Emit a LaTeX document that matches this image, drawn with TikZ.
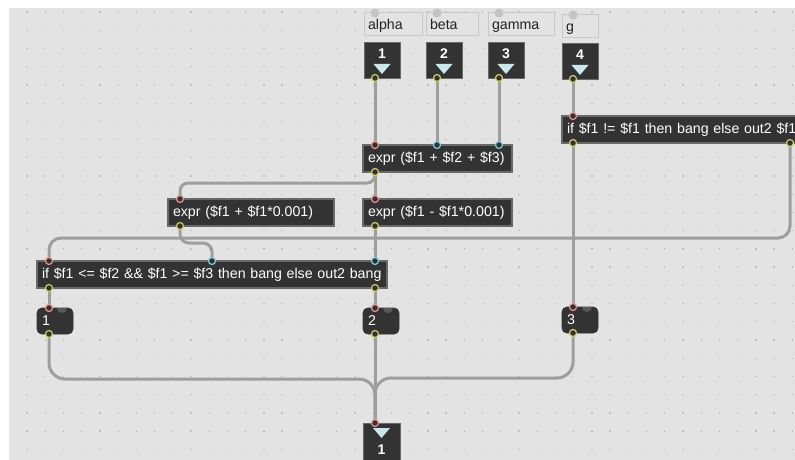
\documentclass[tikz,border=0pt]{standalone}
\usepackage{fontspec}
\newfontfamily\patchfont{Liberation Sans}
\newcommand{\patchsize}{\fontsize{14.2}{17}\selectfont}

\definecolor{canvas}{RGB}{227,227,227}
\definecolor{griddot}{RGB}{192,192,192}
\definecolor{boxfill}{RGB}{51,51,51}
\definecolor{boxrim}{RGB}{105,105,105}
\definecolor{cordgray}{RGB}{158,158,158}
\definecolor{hotring}{RGB}{232,150,140}
\definecolor{coldring}{RGB}{125,205,220}
\definecolor{outring}{RGB}{205,205,95}
\definecolor{arrowcyan}{RGB}{200,232,236}
\definecolor{notedot}{RGB}{196,196,196}
\definecolor{noterim}{RGB}{200,200,200}
\definecolor{notetext}{RGB}{34,34,34}

\begin{document}
\begin{tikzpicture}[
    x=1pt, y=-1pt,
    obj/.style={rectangle, draw=boxrim, line width=2pt, fill=boxfill, anchor=north west,
        outer sep=0pt, minimum height=27pt, inner xsep=5pt, inner ysep=0pt,
        text=white, font=\patchfont\patchsize, align=left},
    msg/.style={obj, rounded corners=5pt, line width=0.8pt, draw=boxfill,
        minimum width=36pt, minimum height=26pt, text width=26pt},
    port/.style={draw=boxrim, minimum size=36pt, fill=boxfill, line width=0.6pt,
        anchor=north west, outer sep=0pt, inner sep=0pt},
    portnum/.style={text=white, font=\patchfont\bfseries\fontsize{14}{16}\selectfont, inner sep=0pt},
    note/.style={rectangle, draw=noterim, line width=1pt, fill=canvas, anchor=north west,
        outer sep=0pt, minimum height=23pt, inner xsep=4pt, inner ysep=0pt,
        text height=12pt, text depth=2pt,
        text=notetext, font=\patchfont\patchsize, align=left},
    cord/.style={draw=cordgray, line width=3pt},
    hot/.style={draw=hotring, fill=boxfill, line width=1.2pt},
    cold/.style={draw=coldring, fill=boxfill, line width=1.2pt},
    outlet/.style={draw=outring, fill=boxfill, line width=1.2pt},
    ]

    % canvas with its dotted grid
    \clip (0,0) rectangle (795,460);
    \fill[white] (0,0) rectangle (795,460);
    \fill[canvas] (9,8) rectangle (795,460);
    \foreach \i in {0,...,42}
        \foreach \j in {0,...,24}
            \fill[griddot] (26.4+18.22*\i, 11.4+18.22*\j) rectangle ++(1.3,1.3);

    % argument names
    \node[note, minimum width=58pt, text width=50pt] (c1) at (364,13) {alpha};
    \node[note, minimum width=52pt, text width=44pt] (c2) at (426,13) {beta};
    \node[note, minimum width=66pt, text width=58pt] (c3) at (488,13) {gamma};
    \node[note, minimum width=36pt, text width=28pt] (c4) at (562,15) {g};
    \foreach \c in {c1, c2, c3, c4}
        \fill[notedot] ([xshift=11pt]\c.north west) circle (4.5pt);

    % inlets
    \foreach \n/\x/\y in {1/364/42, 2/426/42, 3/488/42, 4/562/43} {
        \node[port] (in\n) at (\x,\y) {};
        \node[portnum] at ([yshift=-12pt]in\n.north) {\n};
        \fill[arrowcyan] ([yshift=-22pt]in\n.north) ++(-8.5,0) -- ++(17,0) -- ++(-8.5,10) -- cycle;
        \coordinate (in\n-o) at ([xshift=11pt]in\n.south west);
    }

    % objects
    \node[obj, minimum width=149pt, text width=139pt] (plus) at (363,145)
        {\mbox{expr (\$f1 + \$f2 + \$f3)}};
    \node[obj, minimum width=166pt, text width=156pt] (up) at (168,199)
        {\mbox{expr (\$f1 + \$f1*0.001)}};
    \node[obj, minimum width=149pt, text width=139pt] (dn) at (363,199)
        {\mbox{expr (\$f1 - \$f1*0.001)}};
    \node[obj, minimum width=350pt, text width=340pt] (cond) at (37,261)
        {\mbox{if \$f1 <= \$f2 \&\& \$f1 >= \$f3 then bang else out2 bang}};
    \node[obj, minimum width=280pt, text width=270pt] (alt) at (562,116)
        {\mbox{if \$f1 != \$f1 then bang else out2 \$f1}};

    % message boxes
    \node[msg] (m1) at (37,308) {1};
    \node[msg] (m2) at (363,308) {2};
    \node[msg] (m3) at (562,307) {3};
    \foreach \m in {m1, m2, m3}
        \fill[boxrim!70!boxfill] ([xshift=20pt]\m.north west) arc (180:360:5pt);

    % outlet
    \node[port, minimum width=37pt, minimum height=40pt] (res) at (363,423) {};
    \fill[arrowcyan] ([yshift=-5pt]res.north) ++(-8.5,0) -- ++(17,0) -- ++(-8.5,10) -- cycle;
    \node[portnum] at ([yshift=-27pt]res.north) {1};

    % ports
    \coordinate (plus-i1) at ([xshift=12pt]plus.north west);
    \coordinate (plus-i2) at ([xshift=74pt]plus.north west);
    \coordinate (plus-i3) at ([xshift=136pt]plus.north west);
    \coordinate (plus-o) at ([xshift=12pt]plus.south west);
    \coordinate (up-i1) at ([xshift=12pt]up.north west);
    \coordinate (up-o) at ([xshift=12pt]up.south west);
    \coordinate (dn-i1) at ([xshift=12pt]dn.north west);
    \coordinate (dn-o) at ([xshift=12pt]dn.south west);
    \coordinate (cond-i1) at ([xshift=12pt]cond.north west);
    \coordinate (cond-i2) at ([xshift=175pt]cond.north west);
    \coordinate (cond-i3) at ([xshift=338pt]cond.north west);
    \coordinate (cond-o1) at ([xshift=12pt]cond.south west);
    \coordinate (cond-o2) at ([xshift=338pt]cond.south west);
    \coordinate (alt-i1) at ([xshift=11pt]alt.north west);
    \coordinate (alt-o1) at ([xshift=11pt]alt.south west);
    \coordinate (alt-o2) at ([xshift=228pt]alt.south west);
    \coordinate (m1-i) at ([xshift=12pt]m1.north west);
    \coordinate (m1-o) at ([xshift=12pt]m1.south west);
    \coordinate (m2-i) at ([xshift=12pt]m2.north west);
    \coordinate (m2-o) at ([xshift=12pt]m2.south west);
    \coordinate (m3-i) at ([xshift=11pt]m3.north west);
    \coordinate (m3-o) at ([xshift=11pt]m3.south west);
    \coordinate (res-i) at ([xshift=12pt]res.north west);

    % patch cords
    \draw[cord] (in1-o) -- (plus-i1);
    \draw[cord] (in2-o) -- (plus-i2);
    \draw[cord] (in3-o) -- (plus-i3);
    \draw[cord] (in4-o) -- (alt-i1);
    \draw[cord] (plus-o) -- (dn-i1);
    \draw[cord, rounded corners=8pt] (plus-o) -- ++(0,11) -| (up-i1);
    \draw[cord, rounded corners=9pt] (up-o) -- ++(0,17) -| (cond-i2);
    \draw[cord] (dn-o) -- (cond-i3);
    \draw[cord, rounded corners=12pt] (alt-o2) -- ++(0,95) -| (cond-i1);
    \draw[cord] (cond-o1) -- (m1-i);
    \draw[cord] (cond-o2) -- (m2-i);
    \draw[cord] (alt-o1) -- (m3-i);
    \draw[cord, rounded corners=16pt] (m1-o) -- ++(0,45) -| (res-i);
    \draw[cord] (m2-o) -- (res-i);
    \draw[cord, rounded corners=16pt] (m3-o) -- ++(0,45) -| (res-i);

    % inlet and outlet rings
    \foreach \p in {plus-i1, up-i1, dn-i1, cond-i1, alt-i1, m1-i, m2-i, m3-i, res-i}
        \draw[hot] (\p) circle (3.5pt);
    \foreach \p in {plus-i2, plus-i3, cond-i2, cond-i3}
        \draw[cold] (\p) circle (3.5pt);
    \foreach \p in {in1-o, in2-o, in3-o, in4-o, plus-o, up-o, dn-o, cond-o1, cond-o2,
                    alt-o1, alt-o2, m1-o, m2-o, m3-o}
        \draw[outlet] (\p) circle (3.5pt);
\end{tikzpicture}
\end{document}
